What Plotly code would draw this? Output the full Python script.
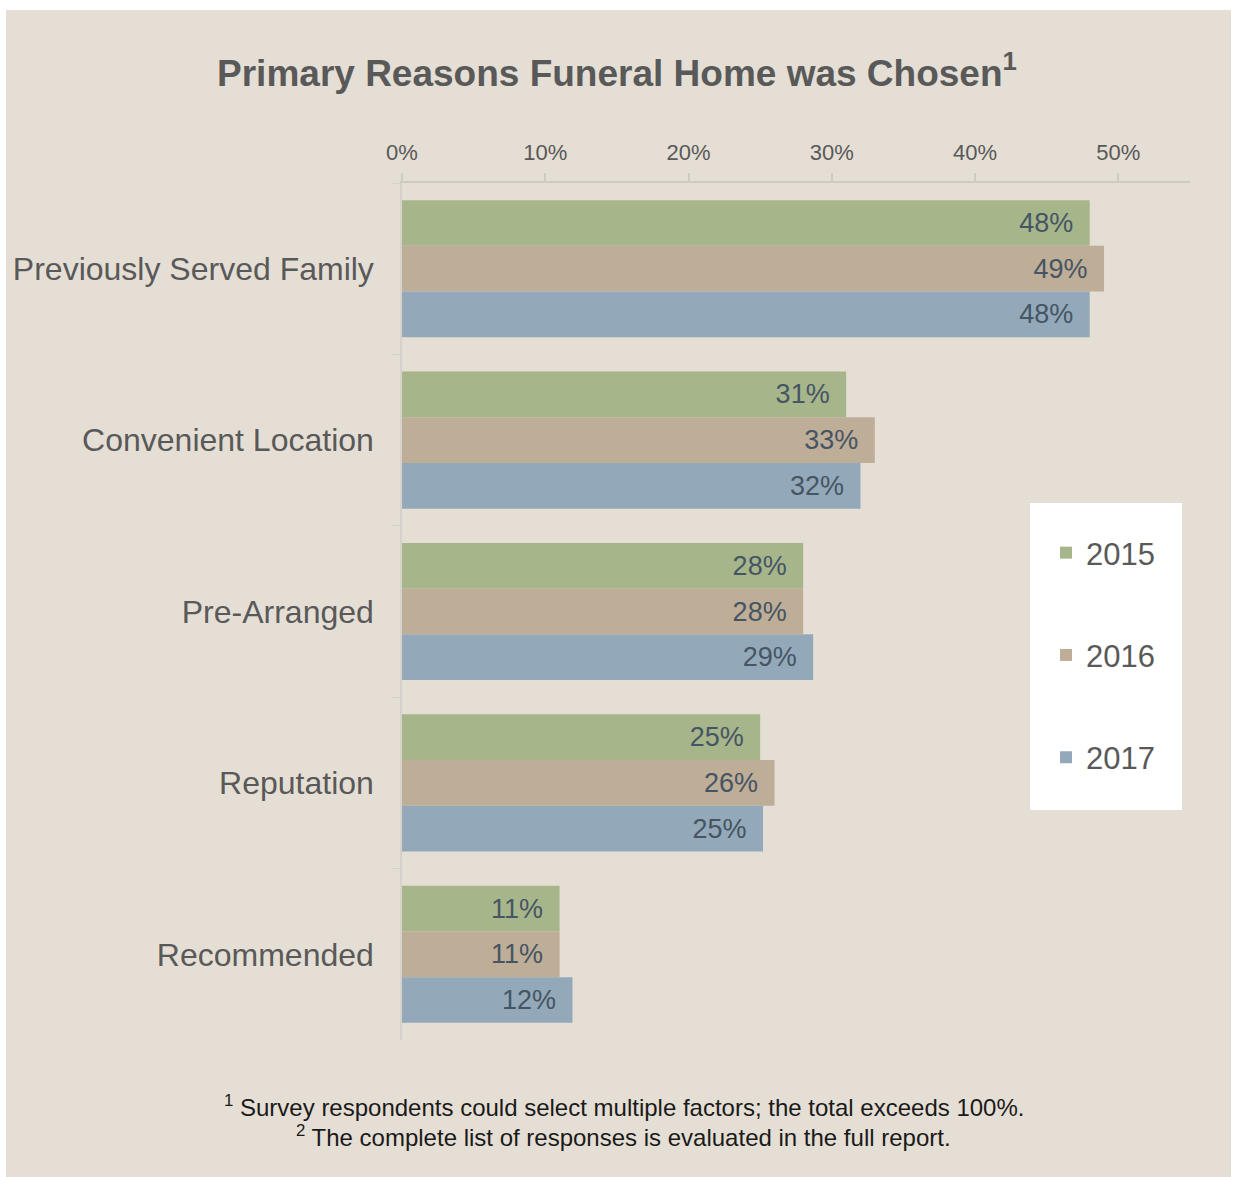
import plotly.graph_objects as go

categories = ["Previously Served Family", "Convenient Location", "Pre-Arranged", "Reputation", "Recommended"]
years = ["2015", "2016", "2017"]
values_2015 = [48, 31, 28, 25, 11]
values_2016 = [49, 33, 28, 26, 11]
values_2017 = [48, 32, 28.7, 25.2, 11.9]
series = [values_2015, values_2016, values_2017]
colors = ["#A7B68A", "#BEAD97", "#93A9B9"]
x_tickvals = [0, 10, 20, 30, 40, 50]
x_ticktext = ["0%", "10%", "20%", "30%", "40%", "50%"]

BG = "#E5DED4"
W, H = 1234, 1177
L, R, T, B = 402, 44, 183, 137
pw, ph = W - L - R, H - T - B

def px2x(px):
    return (px - L) / pw

def py2y(py):
    return 1 - (py - T) / ph

fig = go.Figure()
for i, (yr, vals) in enumerate(zip(years, series)):
    fig.add_trace(go.Bar(
        y=categories, x=vals, name=yr, orientation="h",
        marker=dict(color=colors[i], line=dict(width=0)),
        texttemplate="%{x:.0f}%\u2002", textposition="inside",
        insidetextanchor="end",
        textfont=dict(family="Liberation Sans, Arial, sans-serif", size=27, color="#465564"),
        legendgroup=yr, hoverinfo="skip",
    ))

fig.update_layout(
    width=W, height=H,
    margin=dict(l=L, r=R, t=T, b=B, pad=0),
    paper_bgcolor="white", plot_bgcolor="rgba(0,0,0,0)",
    barmode="group", bargap=0.2, bargroupgap=0,
    font=dict(family="Liberation Sans, Arial, sans-serif", color="#595959"),
    title=dict(text="Primary Reasons Funeral Home was Chosen<sup>1</sup>",
               font=dict(family="Liberation Sans, Arial, sans-serif", size=37, color="#595959", weight="bold"),
               x=617 / W, xanchor="center", y=1 - 73 / H, yanchor="middle"),
    legend=dict(bgcolor="rgba(0,0,0,0)", x=px2x(1046), xanchor="left",
                y=py2y(526), yanchor="top", tracegroupgap=59,
                font=dict(size=31, color="#595959"), traceorder="grouped"),
    xaxis=dict(side="top", range=[0, 55], tickvals=x_tickvals, ticktext=x_ticktext,
               showgrid=False, zeroline=False, showline=True, linecolor="#CFCAC3", linewidth=1.5,
               ticks="outside", ticklen=8, tickcolor="#CFCAC3", tickwidth=1.5,
               tickfont=dict(size=22, color="#595959"), ticklabelstandoff=4),
    yaxis=dict(autorange="reversed", showgrid=False, zeroline=False, showline=True,
               linecolor="#D6D1CA", linewidth=1.5, ticks="outside", ticklen=8,
               tickcolor="#D6D1CA", tickson="boundaries",
               tickfont=dict(size=32, color="#595959"), ticklabelstandoff=20),
    shapes=[
        dict(type="rect", xref="paper", yref="paper", layer="below",
             x0=px2x(6), x1=px2x(1231), y0=py2y(1177), y1=py2y(10),
             fillcolor=BG, line=dict(width=0)),
        dict(type="rect", xref="paper", yref="paper", layer="below",
             x0=px2x(1030), x1=px2x(1182), y0=py2y(810), y1=py2y(503),
             fillcolor="white", line=dict(width=0)),
    ],
    annotations=[
        dict(text="<sup>1</sup> Survey respondents could select multiple factors; the total exceeds 100%.",
             xref="paper", yref="paper", x=px2x(624), y=py2y(1106), xanchor="center", yanchor="middle",
             showarrow=False,
             font=dict(family="Liberation Sans Narrow, Arial Narrow, Liberation Sans, sans-serif", size=24, color="#1A1A1A")),
        dict(text="<sup>2</sup> The complete list of responses is evaluated in the full report.",
             xref="paper", yref="paper", x=px2x(623), y=py2y(1136), xanchor="center", yanchor="middle",
             showarrow=False,
             font=dict(family="Liberation Sans Narrow, Arial Narrow, Liberation Sans, sans-serif", size=24, color="#1A1A1A")),
    ],
)

fig.write_html("out.html")
